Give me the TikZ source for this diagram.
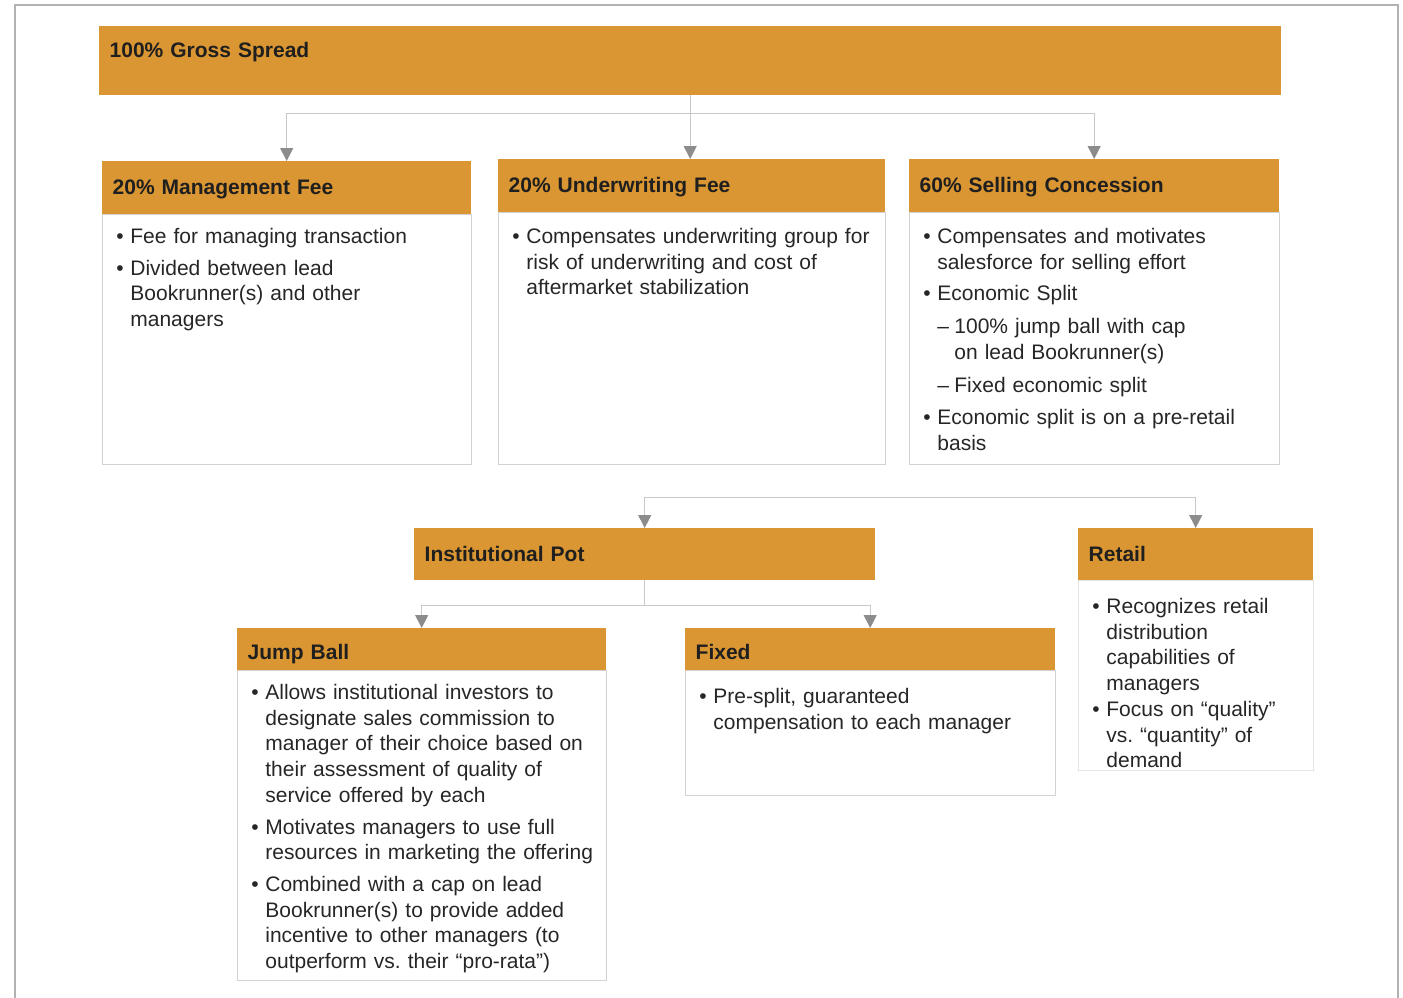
\documentclass[tikz,border=0pt]{standalone}
\usepackage{fontspec}
\setmainfont{Liberation Sans}
\usepackage{enumitem}
\usetikzlibrary{arrows.meta}

\definecolor{spreadorange}{RGB}{218,150,50}
\definecolor{linkgray}{RGB}{200,200,200}
\definecolor{tipgray}{RGB}{140,140,140}

\setlist[itemize,1]{label=\textbullet, leftmargin=22pt, labelindent=8pt, labelwidth=14pt, labelsep=0pt, align=left, topsep=0pt, partopsep=0pt, itemsep=6pt, parsep=0pt}
\setlist[itemize,2]{label=--, leftmargin=17pt, labelindent=0pt, labelwidth=17pt, labelsep=0pt, align=left, topsep=7pt, partopsep=0pt, itemsep=7pt, parsep=0pt}
\frenchspacing

\begin{document}
\begin{tikzpicture}[x=1pt, y=-1pt,
  head/.style={fill=spreadorange, anchor=north west, inner xsep=10.5pt, inner ysep=0pt,
    text height=16pt, text depth=2pt, align=left, text=black!88,
    font=\bfseries\fontsize{21}{25.7}\selectfont},
  body/.style={draw=gray!35, line width=0.8pt, anchor=north west, inner xsep=6pt, inner ysep=0pt,
    text height=3pt, align=left, text=black!85, font=\fontsize{21}{25.7}\selectfont},
  link/.style={draw=linkgray, line width=1pt, -{Triangle[width=13pt, length=13pt, color=tipgray]}}]
\useasboundingbox (0,0) rectangle (1403,997);
\draw[gray!60, line width=1.3pt] (15,1005) -- (15,5) -- (1398,5) -- (1398,1005);

% top row
\node[head, text width=1161pt, text height=31.5pt, text depth=37.5pt] (gross) at (99,26) {100\% Gross Spread};

\node[head, text width=348pt, minimum height=53pt] (mgmtHead) at (102,161) {20\% Management Fee};
\node[body, text width=357pt, text depth=247pt] (mgmtBody) at (mgmtHead.south west) {%
\begin{itemize}
\item Fee for managing transaction
\item Divided between lead\newline Bookrunner(s) and other\newline managers
\end{itemize}};

\node[head, text width=366pt, minimum height=53pt] (uwHead) at (498,159) {20\% Underwriting Fee};
\node[body, text width=375pt, text height=5pt, text depth=247pt] (uwBody) at (uwHead.south west) {%
\begin{itemize}
\item Compensates underwriting group for\newline risk of underwriting and cost of\newline aftermarket stabilization
\end{itemize}};

\node[head, text width=349pt, minimum height=53pt] (sellHead) at (909,159) {60\% Selling Concession};
\node[body, text width=358pt, text height=5pt, text depth=247pt] (sellBody) at (sellHead.south west) {%
\begin{itemize}
\item Compensates and motivates\newline salesforce for selling effort
\item Economic Split
  \begin{itemize}
  \item 100\% jump ball with cap\newline on lead Bookrunner(s)
  \item Fixed economic split
  \end{itemize}
\item Economic split is on a pre-retail\newline basis
\end{itemize}};

% middle row
\node[head, text width=440pt, minimum height=52pt] (instHead) at (414,528) {Institutional Pot};

\node[head, text width=214pt, minimum height=52pt] (retailHead) at (1078,528) {Retail};
\node[body, text width=223pt, text height=7pt, text depth=183pt, draw=gray!20] (retailBody) at (retailHead.south west) {%
\begin{itemize}[itemsep=0pt]
\item Recognizes retail\newline distribution\newline capabilities of\newline managers
\item Focus on “quality”\newline vs. “quantity” of\newline demand
\end{itemize}};

% bottom row
\node[head, text width=348pt, minimum height=42pt, text height=22pt] (jumpHead) at (237,628) {Jump Ball};
\node[body, text width=357pt, text depth=307pt] (jumpBody) at (jumpHead.south west) {%
\begin{itemize}
\item Allows institutional investors to\newline designate sales commission to\newline manager of their choice based on\newline their assessment of quality of\newline service offered by each
\item Motivates managers to use full\newline resources in marketing the offering
\item Combined with a cap on lead\newline Bookrunner(s) to provide added\newline incentive to other managers (to\newline outperform vs. their “pro-rata”)
\end{itemize}};

\node[head, text width=349pt, minimum height=42pt, text height=22pt] (fixedHead) at (685,628) {Fixed};
\node[body, text width=358pt, text height=7pt, text depth=118pt] (fixedBody) at (fixedHead.south west) {%
\begin{itemize}
\item Pre-split, guaranteed\newline compensation to each manager
\end{itemize}};

% connectors
\path (gross.south) ++(0,18) coordinate (topBus);
\draw[link] (gross.south) -- (gross.south |- uwHead.north);
\draw[link] (topBus) -| (mgmtHead.north);
\draw[link] (topBus) -| (sellHead.north);

\coordinate (potBus) at (920,497);
\draw[link] (potBus) -| (instHead.north);
\draw[link] (potBus) -| (retailHead.north);

\path (instHead.south) ++(0,25) coordinate (instBus);
\draw[link] (instHead.south) -- (instBus) -| (jumpHead.north);
\draw[link] (instBus) -| (fixedHead.north);
\end{tikzpicture}
\end{document}
